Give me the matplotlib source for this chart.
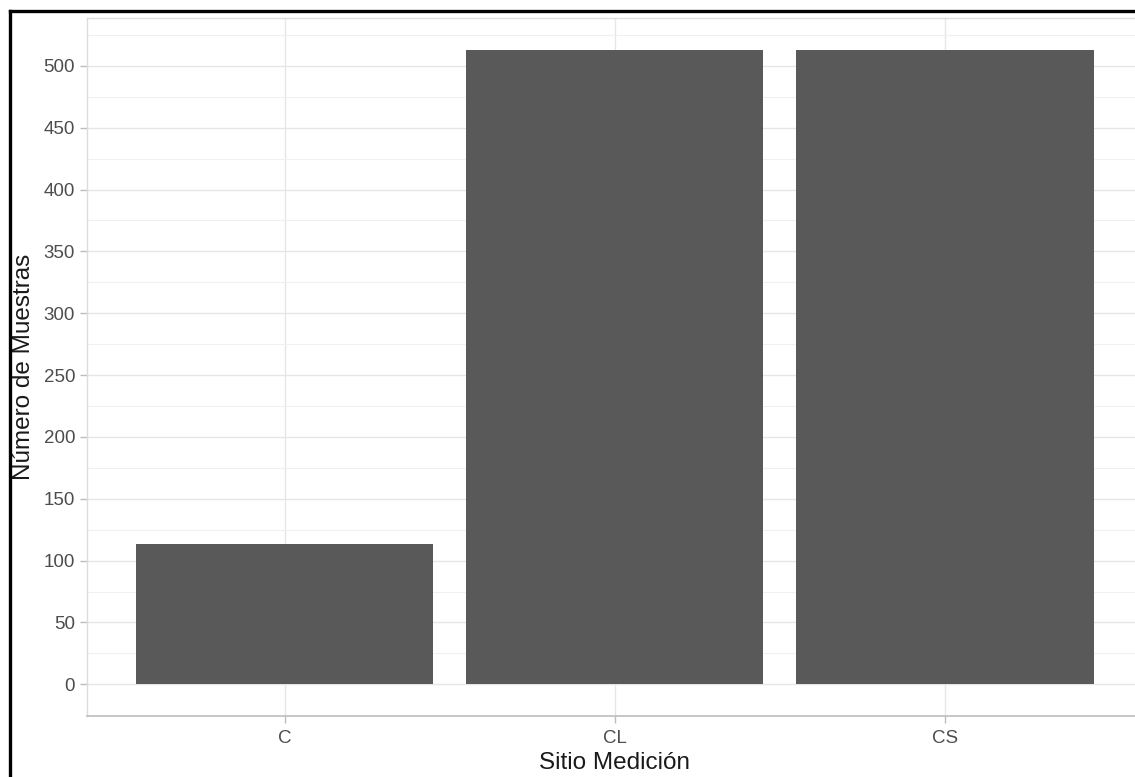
import matplotlib
matplotlib.use("Agg")
import matplotlib.pyplot as plt
from matplotlib.lines import Line2D
import numpy as np

plt.rcParams['font.family'] = ['Liberation Sans', 'DejaVu Sans']

sitios = ["C", "CL", "CS"]
muestras = [113, 513, 513]
yticks = list(range(0, 501, 50))

W, H = 1135, 777
fig = plt.figure(figsize=(W / 100, H / 100), dpi=100)

# panel in pixel coords (right edge runs past the cropped figure)
left, right, top, bottom = 87, 1143, 18, 716
ax = fig.add_axes([left / W, 1 - bottom / H, (right - left) / W, (bottom - top) / H])

x = np.arange(len(sitios))
ax.bar(x, muestras, width=0.9, color="#595959", zorder=3)

ax.set_xlim(-0.6, len(sitios) - 0.4)
ymax = max(muestras)
ax.set_ylim(-0.05 * ymax, 1.05 * ymax)

ax.set_xticks(x)
ax.set_xticklabels(sitios)
ax.set_yticks(yticks)
ax.set_yticks(np.arange(25, 540, 50), minor=True)

ax.grid(True, which="major", color="#e6e6e6", lw=1.0, zorder=0)
ax.grid(True, which="minor", axis="y", color="#f0f0f0", lw=0.8, zorder=0)
ax.set_axisbelow(True)

for s in ["left", "top", "right"]:
    ax.spines[s].set_color("#dcdcdc")
    ax.spines[s].set_linewidth(1.0)
ax.spines["bottom"].set_color("#bdbdbd")
ax.spines["bottom"].set_linewidth(1.2)

ax.tick_params(axis="both", which="major", colors="#bdbdbd", length=5, width=1,
               labelcolor="#4d4d4d", labelsize=13.5)
ax.tick_params(axis="x", which="major", pad=5)
ax.tick_params(axis="y", which="minor", length=0)

ax.set_xlabel("Sitio Medición", fontsize=17.5, color="#1a1a1a", labelpad=4)
ax.set_ylabel("Número de Muestras", fontsize=17.5, color="#1a1a1a", labelpad=6)

# black frame of the screenshot (top and left only, rest is cropped)
fig.add_artist(Line2D([10 / W, 10 / W], [0, 1 - 10.5 / H], color="black", lw=2.4,
                      transform=fig.transFigure, solid_capstyle="projecting"))
fig.add_artist(Line2D([10 / W, 1], [1 - 10.5 / H, 1 - 10.5 / H], color="black", lw=2.4,
                      transform=fig.transFigure, solid_capstyle="projecting"))

fig.savefig("out.png", dpi=100)
